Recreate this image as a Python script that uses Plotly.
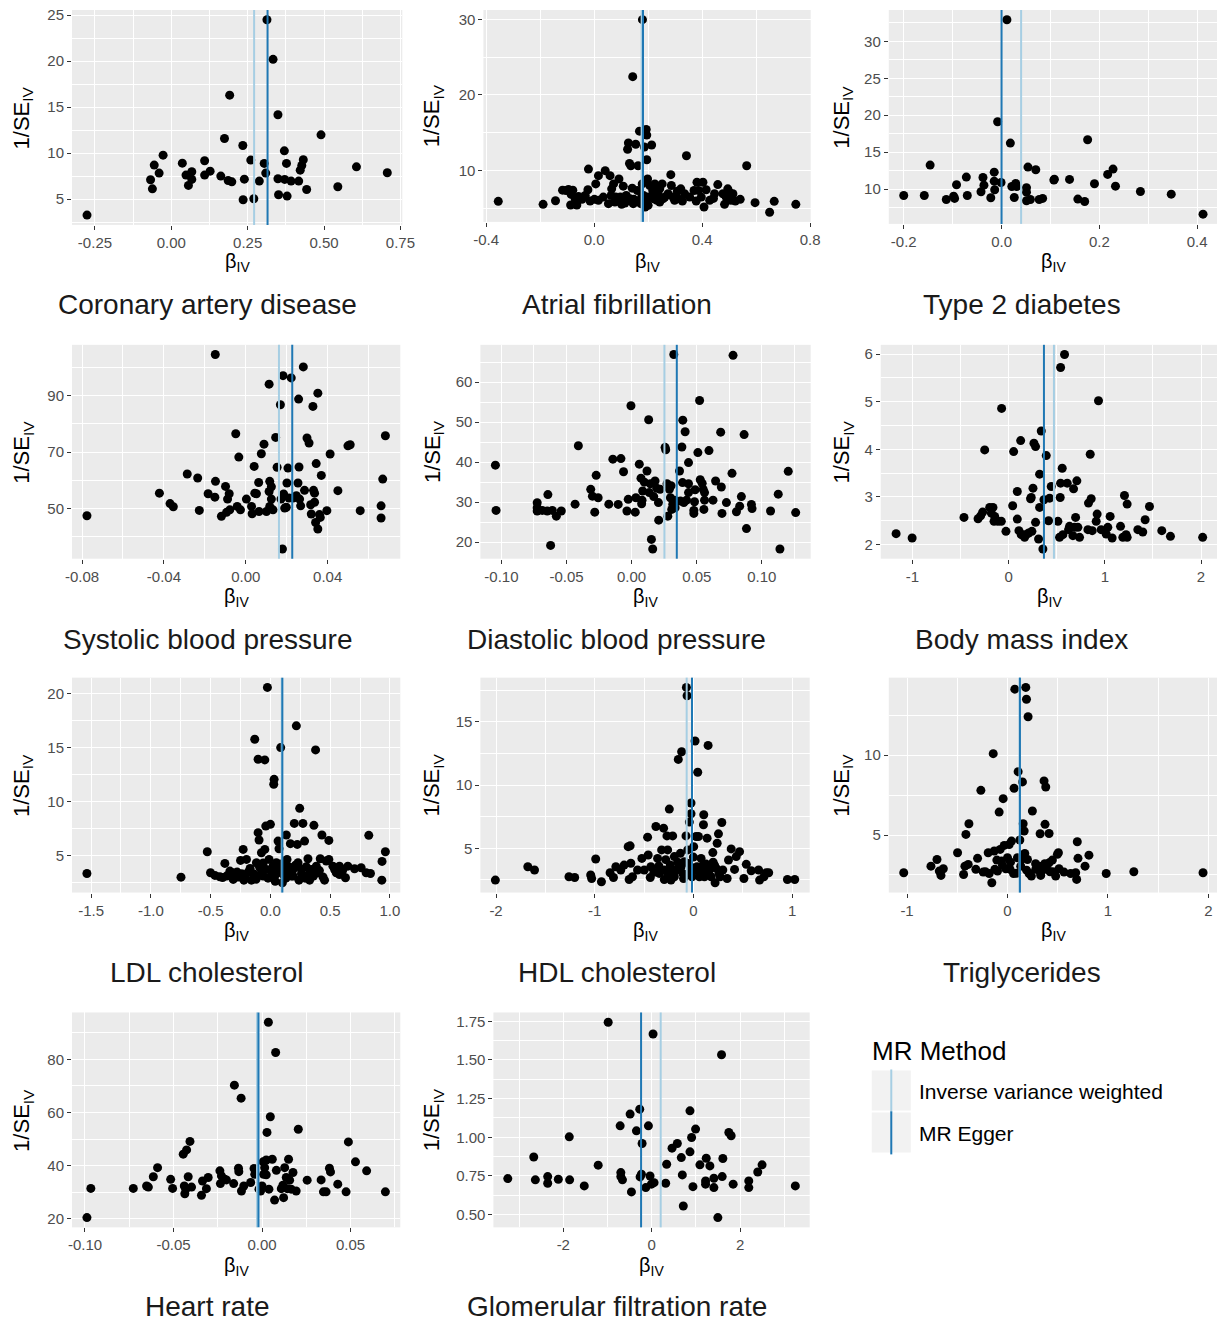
import plotly.graph_objects as go

W, H = 1217, 1323
# measured mapping of the photographing pipeline: picture = S * page + O
SX, OX = 0.9804, 10.05
SY, OY = 0.9975, 4.0
FIG_W = int(round((W - OX) / SX))
FIG_H = H
FONT = "Liberation Sans, Arial, Helvetica, sans-serif"
IVW_COLOR = "#A6CEE3"
EGGER_COLOR = "#1F78B4"

# ---------------- data ----------------
cad_beta = [-0.276, -0.068, -0.062, -0.056, -0.040, -0.027, 0.036, 0.048, 0.056, 0.067,
            0.067, 0.109, 0.109, 0.127, 0.162, 0.174, 0.186, 0.191, 0.198, 0.234,
            0.235, 0.239, 0.260, 0.270, 0.288, 0.304, 0.309, 0.313, 0.333, 0.349,
            0.349, 0.351, 0.370, 0.371, 0.377, 0.379, 0.392, 0.417, 0.422, 0.427,
            0.432, 0.443, 0.490, 0.545, 0.606, 0.707]
cad_inv_se = [3.26, 7.10, 6.12, 8.70, 7.83, 9.78, 8.91, 7.61, 6.49, 7.97,
              7.14, 9.17, 7.61, 8.04, 7.50, 11.59, 7.03, 16.30, 6.88, 10.83,
              4.93, 7.17, 9.24, 5.04, 6.96, 8.88, 7.83, 24.50, 20.20, 14.17,
              7.21, 5.47, 10.25, 7.14, 8.88, 5.33, 6.96, 6.96, 8.15, 8.66,
              9.28, 6.05, 11.99, 6.34, 8.51, 7.86]
cad_ivw, cad_egger = 0.271, 0.315

af_beta = [-0.355, -0.189, -0.143, -0.117, -0.104, -0.095, -0.085, -0.079, -0.087, -0.070,
           -0.064, -0.058, -0.045, -0.033, -0.023, -0.021, -0.015, 0.001, 0.006, 0.016,
           0.041, 0.059, 0.065, 0.072, 0.080, 0.092, 0.097, 0.102, 0.108, 0.119,
           0.124, 0.127, 0.131, 0.136, 0.143, 0.141, 0.147, 0.154, 0.160, 0.163,
           0.168, 0.173, 0.178, 0.179, 0.183, 0.186, 0.189, 0.193, 0.195, 0.195,
           0.198, 0.203, 0.206, 0.213, 0.217, 0.225, 0.232, 0.237, 0.243, 0.252,
           0.262, 0.284, 0.286, 0.298, 0.308, 0.321, 0.327, 0.342, 0.370, 0.378,
           0.381, 0.387, 0.403, 0.407, 0.415, 0.442, 0.458, 0.483, 0.489, 0.495,
           0.501, 0.514, 0.523, 0.541, 0.565, 0.596, 0.650, 0.667, 0.747, 0.016,
           0.034, 0.053, 0.063, 0.077, 0.114, 0.133, 0.145, 0.157, 0.176, 0.188,
           0.200, 0.219, 0.231, 0.243, 0.256, 0.274, 0.292, 0.311, 0.335, 0.354,
           0.397, 0.428, 0.446, 0.477, 0.507]
af_inv_se = [5.89, 5.49, 5.97, 7.37, 7.33, 7.46, 6.81, 7.37, 5.40, 6.19,
             5.40, 6.54, 6.15, 6.67, 7.42, 10.17, 5.93, 6.15, 8.20, 9.30,
             9.96, 9.30, 7.55, 8.20, 6.45, 8.86, 6.45, 5.49, 7.90, 6.67,
             12.80, 13.63, 10.92, 10.61, 22.43, 7.64, 6.15, 13.46, 7.33, 10.61,
             15.20, 5.58, 8.20, 30.00, 6.67, 13.10, 5.14, 15.43, 14.68, 11.40,
             8.86, 6.45, 7.99, 13.37, 7.33, 8.20, 6.02, 6.89, 7.55, 8.20,
             6.45, 9.43, 7.99, 6.02, 7.24, 7.55, 5.93, 11.93, 7.33, 5.93,
             8.42, 7.33, 8.42, 5.14, 7.42, 6.28, 8.11, 5.49, 6.45, 7.55,
             7.11, 6.89, 5.93, 6.15, 10.61, 5.71, 4.44, 5.89, 5.49, 6.02,
             6.45, 5.58, 6.67, 5.80, 5.67, 6.24, 5.58, 5.93, 6.45, 5.93,
             5.36, 6.24, 6.67, 5.80, 6.24, 6.89, 6.45, 6.24, 6.89, 6.45,
             6.45, 6.02, 6.89, 6.89, 6.02]
af_ivw, af_egger = 0.176, 0.181

t2d_beta = [-0.200, -0.158, -0.146, -0.113, -0.098, -0.096, -0.092, -0.072, -0.070, -0.042,
            -0.038, -0.036, -0.022, -0.015, -0.015, -0.014, -0.008, -0.001, 0.011, 0.018,
            0.021, 0.026, 0.029, 0.031, 0.051, 0.051, 0.051, 0.054, 0.059, 0.070,
            0.077, 0.084, 0.107, 0.108, 0.139, 0.156, 0.170, 0.176, 0.190, 0.217,
            0.228, 0.233, 0.284, 0.347, 0.412]
t2d_inv_se = [9.14, 9.14, 13.25, 8.60, 9.05, 8.74, 10.59, 11.63, 9.14, 9.64,
              11.58, 10.54, 8.83, 12.30, 11.08, 9.91, 19.12, 10.90, 32.93, 16.23,
              10.36, 8.87, 10.77, 10.36, 10.18, 9.59, 8.42, 12.98, 8.60, 12.62,
              8.60, 8.74, 11.22, 11.35, 11.31, 8.65, 8.33, 16.68, 10.72, 11.99,
              12.71, 10.40, 9.68, 9.32, 6.61]
t2d_ivw, t2d_egger = 0.040, 0.000

sbp_beta = [-0.0776, -0.0422, -0.0370, -0.0354, -0.0286, -0.0235, -0.0227, -0.0184, -0.0151, -0.0149,
            -0.0148, -0.0119, -0.0099, -0.0089, -0.0081, -0.0094, -0.0078, -0.0049, -0.0042, -0.0034,
            -0.0026, 0.0003, 0.0028, 0.0031, 0.0041, 0.0044, 0.0052, 0.0063, 0.0065, 0.0076,
            0.0089, 0.0101, 0.0114, 0.0114, 0.0117, 0.0117, 0.0125, 0.0125, 0.0133, 0.0146,
            0.0153, 0.0169, 0.0172, 0.0179, 0.0182, 0.0185, 0.0190, 0.0198, 0.0201, 0.0206,
            0.0211, 0.0222, 0.0231, 0.0247, 0.0255, 0.0258, 0.0260, 0.0263, 0.0268, 0.0281,
            0.0287, 0.0299, 0.0309, 0.0317, 0.0320, 0.0328, 0.0331, 0.0336, 0.0336, 0.0341,
            0.0344, 0.0352, 0.0352, 0.0360, 0.0364, 0.0369, 0.0396, 0.0412, 0.0450, 0.0499,
            0.0510, 0.0559, 0.0661, 0.0661, 0.0669, 0.0682]
sbp_inv_se = [47.4, 55.4, 51.7, 50.6, 62.2, 60.8, 49.3, 55.2, 54.0, 104.6,
              59.6, 47.2, 57.8, 53.3, 55.2, 48.6, 49.5, 76.5, 50.7, 68.2,
              49.5, 53.3, 50.7, 48.1, 64.9, 55.4, 55.2, 59.2, 48.9, 69.4,
              72.8, 48.9, 94.1, 56.0, 59.6, 50.7, 57.7, 53.3, 49.5, 75.2,
              64.6, 86.8, 53.3, 35.6, 97.1, 55.1, 50.1, 50.4, 59.0, 64.3,
              53.7, 96.3, 53.7, 54.5, 59.0, 88.8, 64.7, 53.3, 50.9, 100.2,
              56.4, 75.0, 73.2, 51.3, 48.0, 86.2, 56.4, 55.4, 52.2, 45.0,
              65.9, 90.9, 42.7, 47.8, 46.8, 61.7, 49.2, 69.3, 56.3, 72.2,
              72.6, 49.2, 50.9, 46.6, 60.4, 75.8]
sbp_ivw, sbp_egger = 0.0162, 0.0227

dbp_beta = [-0.1046, -0.1041, -0.0725, -0.0725, -0.0725, -0.0686, -0.0643, -0.0622, -0.0648, -0.0609,
            -0.0578, -0.0540, -0.0434, -0.0409, -0.0314, -0.0301, -0.0283, -0.0272, -0.0257, -0.0175,
            -0.0144, -0.0103, -0.0082, -0.0062, -0.0036, -0.0026, -0.0005, 0.0028, 0.0033, 0.0059,
            0.0072, 0.0077, 0.0080, 0.0085, 0.0098, 0.0118, 0.0131, 0.0136, 0.0144, 0.0152,
            0.0162, 0.0170, 0.0180, 0.0193, 0.0206, 0.0208, 0.0219, 0.0257, 0.0262, 0.0272,
            0.0278, 0.0290, 0.0298, 0.0303, 0.0308, 0.0316, 0.0324, 0.0329, 0.0334, 0.0368,
            0.0375, 0.0386, 0.0391, 0.0393, 0.0401, 0.0411, 0.0422, 0.0437, 0.0437, 0.0437,
            0.0478, 0.0483, 0.0488, 0.0478, 0.0509, 0.0522, 0.0527, 0.0542, 0.0550, 0.0555,
            0.0560, 0.0560, 0.0594, 0.0625, 0.0645, 0.0684, 0.0689, 0.0694, 0.0728, 0.0771,
            0.0779, 0.0805, 0.0830, 0.0843, 0.0864, 0.0882, 0.0920, 0.0925, 0.1067, 0.1126,
            0.1139, 0.1203, 0.1260]
dbp_inv_se = [39.25, 27.95, 29.87, 28.6, 27.8, 27.95, 31.9, 19.2, 27.8, 27.95,
              26.5, 27.8, 29.5, 44.1, 33.2, 31.5, 27.5, 36.7, 31.1, 29.5,
              40.75, 29.45, 40.9, 37.6, 27.8, 30.7, 54.1, 27.5, 31.1, 39.5,
              36.0, 29.6, 30.5, 32.8, 35.0, 37.8, 50.6, 32.4, 34.6, 20.7,
              18.3, 31.4, 35.3, 33.5, 29.9, 25.5, 33.2, 43.7, 43.1, 34.6,
              26.5, 33.2, 31.1, 34.1, 28.2, 29.5, 66.9, 30.5, 28.6, 37.8,
              30.3, 43.8, 34.9, 50.5, 29.9, 47.6, 30.5, 39.9, 34.6, 32.4,
              27.95, 30.1, 33.1, 27.2, 42.4, 55.4, 35.6, 34.7, 33.2, 28.2,
              32.4, 30.5, 42.9, 30.5, 35.3, 47.5, 33.8, 27.2, 29.9, 37.2,
              66.7, 27.6, 29.0, 31.4, 46.9, 23.4, 29.45, 28.4, 27.8, 32.0,
              18.3, 37.7, 27.4]
dbp_ivw, dbp_egger = 0.0252, 0.0347

bmi_beta = [-1.170, -1.003, -0.464, -0.318, -0.291, -0.270, -0.249, -0.197, -0.180, -0.163,
            -0.152, -0.145, -0.111, -0.076, -0.073, -0.028, 0.042, 0.052, 0.090, 0.090,
            0.107, 0.125, 0.131, 0.149, 0.166, 0.183, 0.208, 0.228, 0.235, 0.242,
            0.253, 0.263, 0.280, 0.280, 0.311, 0.322, 0.322, 0.339, 0.356, 0.367,
            0.391, 0.415, 0.426, 0.443, 0.512, 0.529, 0.536, 0.540, 0.540, 0.557,
            0.564, 0.581, 0.609, 0.623, 0.633, 0.668, 0.675, 0.685, 0.696, 0.709,
            0.720, 0.737, 0.824, 0.830, 0.848, 0.858, 0.869, 0.910, 0.920, 0.934,
            0.962, 1.014, 1.031, 1.055, 1.076, 1.163, 1.187, 1.204, 1.221, 1.232,
            1.232, 1.343, 1.394, 1.419, 1.464, 1.592, 1.682, 2.017]
bmi_inv_se = [2.224, 2.133, 2.566, 2.538, 2.600, 2.678, 3.986, 2.776, 2.657, 2.776,
              2.483, 2.587, 2.483, 2.483, 4.860, 2.273, 2.811, 3.951, 2.531, 3.112,
              2.287, 4.182, 2.203, 2.203, 2.147, 2.203, 2.238, 2.958, 2.986, 2.273,
              3.182, 4.126, 4.056, 2.462, 2.112, 3.476, 2.776, 4.385, 1.902, 2.937,
              3.867, 2.497, 2.972, 3.217, 2.483, 2.147, 2.986, 5.720, 3.287, 3.601,
              2.203, 5.993, 3.287, 2.308, 2.378, 2.182, 3.168, 2.357, 2.566, 3.336,
              2.357, 2.147, 2.308, 2.867, 3.895, 2.958, 2.287, 2.483, 2.636, 5.021,
              2.308, 2.217, 2.357, 2.587, 2.133, 2.378, 2.147, 3.028, 2.203, 2.846,
              2.147, 2.308, 2.259, 2.517, 2.797, 2.287, 2.168, 2.147]
bmi_ivw, bmi_egger = 0.471, 0.367

ldl_beta = [-1.535, -0.748, -0.528, -0.501, -0.464, -0.423, -0.381, -0.367, -0.339, -0.311,
            -0.278, -0.250, -0.228, -0.222, -0.200, -0.186, -0.159, -0.131, -0.117, -0.103,
            -0.103, -0.095, -0.075, -0.061, -0.047, -0.047, -0.039, -0.033, -0.025, -0.011,
            0.000, 0.008, 0.022, 0.028, 0.031, 0.050, 0.064, 0.072, 0.078, 0.086,
            0.100, 0.120, 0.133, 0.147, 0.161, 0.167, 0.189, 0.200, 0.217, 0.225,
            0.231, 0.239, 0.245, 0.259, 0.272, 0.286, 0.300, 0.314, 0.328, 0.342,
            0.364, 0.378, 0.398, 0.417, 0.431, 0.453, 0.467, 0.489, 0.489, 0.537,
            0.551, 0.578, 0.606, 0.628, 0.648, 0.704, 0.759, 0.801, 0.823, 0.837,
            0.932, 0.934, 0.962, -0.311, -0.131, -0.075, 0.036, 0.139, 0.175, 0.286,
            0.384, 0.523, 0.578, -0.40, -0.35, -0.27, -0.24, -0.21, -0.17, -0.14,
            -0.12, -0.09, -0.06, -0.02, 0.01, 0.04, 0.06, 0.09, 0.11, 0.13,
            0.16, 0.19, 0.21, 0.26, 0.29, 0.33, 0.36, 0.41, 0.44, 0.60]
ldl_inv_se = [3.33, 2.99, 5.34, 3.40, 3.15, 3.02, 4.26, 3.09, 3.55, 2.78,
              3.46, 4.54, 5.56, 2.71, 4.63, 3.46, 2.71, 15.76, 4.32, 13.91,
              7.11, 6.43, 5.25, 3.09, 13.85, 5.56, 7.72, 3.70, 20.56, 4.63,
              7.88, 3.09, 4.01, 11.59, 12.05, 4.32, 6.33, 5.62, 3.70, 14.99,
              2.47, 3.70, 6.89, 4.01, 3.46, 6.09, 3.70, 7.97, 17.00, 6.02,
              4.32, 2.71, 9.36, 3.70, 7.97, 6.33, 3.95, 4.69, 2.71, 3.70,
              7.79, 14.77, 3.40, 4.69, 6.89, 2.71, 4.48, 6.39, 4.63, 3.70,
              3.40, 3.24, 3.70, 2.93, 4.01, 3.77, 3.86, 3.40, 6.86, 3.33,
              2.71, 4.45, 5.34, 3.40, 3.09, 3.40, 3.09, 4.63, 3.09, 3.09,
              4.01, 4.01, 4.01, 2.95, 3.20, 3.00, 3.30, 2.90, 3.80, 3.30,
              2.80, 3.90, 4.30, 2.90, 3.50, 2.60, 3.40, 4.20, 3.20, 2.90,
              3.90, 3.10, 4.10, 3.30, 2.90, 3.50, 3.10, 3.60, 3.00, 3.50]
ldl_ivw, ldl_egger = 0.095, 0.100

hdl_beta = [-2.007, -1.678, -1.610, -1.261, -1.203, -1.041, -1.031, -0.990, -0.932, -0.844,
            -0.810, -0.786, -0.736, -0.702, -0.661, -0.651, -0.641, -0.634, -0.617, -0.566,
            -0.522, -0.498, -0.464, -0.458, -0.437, -0.431, -0.380, -0.363, -0.346, -0.322,
            -0.302, -0.295, -0.268, -0.261, -0.244, -0.234, -0.227, -0.210, -0.193, -0.176,
            -0.153, -0.132, -0.119, -0.108, -0.092, -0.071, -0.064, -0.075, -0.058, -0.041,
            -0.031, -0.024, -0.024, -0.014, 0.003, 0.017, 0.027, 0.037, 0.044, 0.051,
            0.061, 0.078, 0.085, 0.102, 0.105, 0.129, 0.139, 0.149, 0.163, 0.180,
            0.197, 0.214, 0.220, 0.231, 0.241, 0.254, 0.271, 0.288, 0.298, 0.342,
            0.356, 0.383, 0.417, 0.434, 0.468, 0.512, 0.536, 0.586, 0.661, 0.671,
            0.715, 0.739, 0.763, 0.953, 1.027, -0.295, -0.193, -0.125, 0.010, 0.112,
            0.180, -0.261, -0.041, -0.35, -0.28, -0.22, -0.16, -0.10, -0.05, 0.00,
            0.05, 0.09, 0.14, 0.20, 0.26, -0.40]
hdl_inv_se = [2.48, 3.54, 3.28, 2.75, 2.69, 2.88, 2.61, 4.15, 2.35, 3.06,
              2.69, 3.54, 3.28, 3.67, 5.13, 2.53, 5.19, 3.81, 2.75, 3.28,
              4.20, 3.28, 5.88, 4.47, 2.69, 3.54, 6.72, 4.20, 3.01, 4.87,
              6.59, 2.53, 5.98, 4.87, 8.10, 3.67, 2.48, 5.98, 4.34, 3.28,
              12.03, 4.60, 12.64, 3.01, 3.94, 17.73, 17.07, 5.98, 4.87, 7.07,
              3.54, 8.58, 7.73, 2.75, 5.13, 13.49, 5.93, 3.54, 11.02, 5.93,
              2.75, 4.20, 3.01, 6.86, 7.65, 3.75, 5.80, 13.14, 3.28, 2.75,
              4.66, 3.67, 2.27, 3.41, 5.40, 6.14, 2.75, 7.04, 3.28, 2.61,
              4.07, 4.95, 3.33, 4.34, 4.73, 2.61, 3.73, 3.22, 3.28, 2.48,
              2.75, 3.06, 3.06, 2.53, 2.53, 3.28, 2.75, 3.54, 3.28, 2.75,
              3.54, 3.01, 3.01, 3.60, 4.10, 3.10, 3.90, 2.60, 3.80, 4.30,
              3.20, 3.60, 3.10, 3.90, 3.00, 3.10]
hdl_ivw, hdl_egger = -0.068, -0.014

tg_beta = [-1.033, -0.762, -0.702, -0.679, -0.662, -0.639, -0.497, -0.437, -0.424, -0.414,
           -0.391, -0.384, -0.315, -0.298, -0.265, -0.242, -0.192, -0.182, -0.156, -0.142,
           -0.132, -0.126, -0.106, -0.099, -0.083, -0.073, -0.060, -0.043, -0.033, -0.017,
           0.000, 0.017, 0.026, 0.040, 0.060, 0.066, 0.073, 0.099, 0.106, 0.123,
           0.132, 0.149, 0.156, 0.166, 0.172, 0.182, 0.189, 0.199, 0.205, 0.215,
           0.238, 0.248, 0.281, 0.315, 0.325, 0.331, 0.354, 0.364, 0.371, 0.374,
           0.381, 0.391, 0.414, 0.414, 0.424, 0.447, 0.480, 0.497, 0.507, 0.513,
           0.563, 0.629, 0.679, 0.689, 0.695, 0.702, 0.772, 0.811, 0.983, 1.258,
           1.947, -0.22, -0.05, 0.03, 0.09, 0.14, 0.19, 0.28, 0.33, 0.45]
tg_inv_se = [2.64, 3.05, 3.47, 2.74, 2.47, 2.89, 3.89, 2.53, 3.05, 5.04,
             3.16, 5.71, 2.85, 3.54, 7.80, 2.68, 3.89, 2.59, 2.01, 10.10,
             4.00, 2.85, 3.43, 2.74, 6.44, 4.10, 3.37, 7.28, 4.35, 2.89,
             3.58, 4.41, 2.85, 4.62, 2.59, 7.93, 14.14, 3.58, 8.97, 4.69,
             3.05, 8.33, 5.71, 5.25, 3.85, 14.25, 13.51, 3.47, 12.41, 2.59,
             2.43, 6.51, 2.85, 3.05, 5.08, 2.47, 2.89, 8.39, 3.20, 5.67,
             8.01, 2.85, 5.10, 3.26, 2.70, 3.43, 2.43, 3.79, 3.89, 2.89,
             2.68, 2.59, 2.64, 2.22, 4.58, 3.54, 3.05, 3.74, 2.59, 2.70,
             2.64, 2.70, 3.10, 3.30, 2.60, 3.50, 2.80, 3.20, 2.60, 2.70]
tg_ivw, tg_egger = 0.120, 0.124

hr_beta = [-0.0989, -0.0967, -0.0727, -0.0652, -0.0642, -0.0614, -0.0590, -0.0516, -0.0505, -0.0445,
           -0.0439, -0.0436, -0.0430, -0.0426, -0.0417, -0.0407, -0.0398, -0.0342, -0.0336, -0.0314,
           -0.0304, -0.0238, -0.0235, -0.0229, -0.0210, -0.0201, -0.0160, -0.0156, -0.0133, -0.0131,
           -0.0118, -0.0116, -0.0103, -0.0064, -0.0045, -0.0041, -0.0017, -0.0008, 0.0000, 0.0006,
           0.0009, 0.0015, 0.0024, 0.0024, 0.0028, 0.0036, 0.0039, 0.0047, 0.0058, 0.0071,
           0.0077, 0.0081, 0.0109, 0.0118, 0.0122, 0.0128, 0.0137, 0.0143, 0.0150, 0.0156,
           0.0165, 0.0175, 0.0193, 0.0205, 0.0255, 0.0334, 0.0347, 0.0362, 0.0381, 0.0387,
           0.0428, 0.0475, 0.0488, 0.0528, 0.0591, 0.0697]
hr_inv_se = [20.4, 31.4, 31.4, 32.3, 31.9, 35.8, 39.2, 34.8, 31.4, 44.3,
             32.3, 29.4, 31.1, 45.9, 35.8, 49.1, 31.9, 28.8, 34.2, 31.3,
             35.5, 38.0, 33.2, 36.1, 34.8, 34.6, 33.2, 70.3, 39.0, 37.7,
             65.4, 30.4, 32.3, 33.6, 38.9, 36.7, 31.1, 30.4, 32.3, 41.4,
             36.7, 39.2, 42.1, 36.5, 52.5, 94.0, 31.1, 58.4, 42.4, 27.0,
             82.6, 38.2, 31.3, 32.6, 27.9, 39.2, 35.5, 31.3, 42.4, 34.5,
             31.1, 37.4, 30.4, 53.7, 34.5, 34.6, 30.1, 30.1, 39.0, 37.6,
             33.0, 30.1, 48.9, 41.4, 38.0, 30.1]
hr_ivw, hr_egger = -0.0028, -0.0020

gfr_beta = [-3.256, -2.669, -2.632, -2.353, -2.353, -2.113, -1.865, -1.857, -1.526, -1.211,
            -0.985, -0.714, -0.699, -0.699, -0.662, -0.489, -0.459, -0.346, -0.271, -0.263,
            -0.233, -0.218, -0.135, -0.075, -0.038, -0.008, 0.030, 0.053, 0.316, 0.338,
            0.459, 0.579, 0.669, 0.692, 0.714, 0.865, 0.865, 0.902, 0.932, 0.992,
            1.090, 1.218, 1.233, 1.218, 1.316, 1.406, 1.406, 1.496, 1.579, 1.594,
            1.609, 1.744, 1.797, 1.842, 2.195, 2.195, 2.398, 2.496, 3.248]
gfr_inv_se = [0.733, 0.873, 0.725, 0.746, 0.703, 0.729, 1.003, 0.725, 0.686, 0.820,
              1.744, 1.074, 0.772, 0.746, 0.725, 1.150, 0.647, 1.042, 1.182, 0.744,
              0.761, 0.960, 0.675, 1.074, 0.750, 0.697, 1.668, 0.707, 0.703, 0.826,
              0.930, 0.960, 0.869, 0.757, 0.556, 1.171, 0.906, 0.999, 0.681, 1.053,
              0.822, 0.718, 0.865, 0.697, 0.815, 0.735, 0.675, 0.481, 1.534, 0.746,
              0.863, 1.031, 1.010, 0.697, 0.718, 0.675, 0.776, 0.822, 0.686]
gfr_ivw, gfr_egger = 0.203, -0.241

# tick values
cad_xticks = [-0.25, 0.0, 0.25, 0.5, 0.75]
cad_yticks = [5, 10, 15, 20, 25]
af_xticks = [-0.4, 0.0, 0.4, 0.8]
af_yticks = [10, 20, 30]
t2d_xticks = [-0.2, 0.0, 0.2, 0.4]
t2d_yticks = [10, 15, 20, 25, 30]
sbp_xticks = [-0.08, -0.04, 0.0, 0.04]
sbp_yticks = [50, 70, 90]
dbp_xticks = [-0.10, -0.05, 0.0, 0.05, 0.10]
dbp_yticks = [20, 30, 40, 50, 60]
bmi_xticks = [-1, 0, 1, 2]
bmi_yticks = [2, 3, 4, 5, 6]
ldl_xticks = [-1.5, -1.0, -0.5, 0.0, 0.5, 1.0]
ldl_yticks = [5, 10, 15, 20]
hdl_xticks = [-2, -1, 0, 1]
hdl_yticks = [5, 10, 15]
tg_xticks = [-1, 0, 1, 2]
tg_yticks = [5, 10]
hr_xticks = [-0.10, -0.05, 0.0, 0.05]
hr_yticks = [20, 40, 60, 80]
gfr_xticks = [-2, 0, 2]
gfr_yticks = [0.50, 0.75, 1.00, 1.25, 1.50, 1.75]

legend_labels = ["Inverse variance weighted", "MR Egger"]

# panel table: title, data, ticks, decimals, pixel box (l, r, t, b) in the picture, column, row
panels = [
    ("Coronary artery disease", cad_beta, cad_inv_se, cad_ivw, cad_egger, cad_xticks, 2, cad_yticks, 0, (72, 402, 10, 225), 0, 0),
    ("Atrial fibrillation", af_beta, af_inv_se, af_ivw, af_egger, af_xticks, 1, af_yticks, 0, (483, 810, 10, 222), 1, 0),
    ("Type 2 diabetes", t2d_beta, t2d_inv_se, t2d_ivw, t2d_egger, t2d_xticks, 1, t2d_yticks, 0, (888, 1217, 10, 224), 2, 0),
    ("Systolic blood pressure", sbp_beta, sbp_inv_se, sbp_ivw, sbp_egger, sbp_xticks, 2, sbp_yticks, 0, (72, 400, 345, 559), 0, 1),
    ("Diastolic blood pressure", dbp_beta, dbp_inv_se, dbp_ivw, dbp_egger, dbp_xticks, 2, dbp_yticks, 0, (480, 810, 345, 559), 1, 1),
    ("Body mass index", bmi_beta, bmi_inv_se, bmi_ivw, bmi_egger, bmi_xticks, 0, bmi_yticks, 0, (880, 1217, 345, 559), 2, 1),
    ("LDL cholesterol", ldl_beta, ldl_inv_se, ldl_ivw, ldl_egger, ldl_xticks, 1, ldl_yticks, 0, (72, 400, 678, 893), 0, 2),
    ("HDL cholesterol", hdl_beta, hdl_inv_se, hdl_ivw, hdl_egger, hdl_xticks, 0, hdl_yticks, 0, (480, 809, 678, 893), 1, 2),
    ("Triglycerides", tg_beta, tg_inv_se, tg_ivw, tg_egger, tg_xticks, 0, tg_yticks, 0, (888, 1217, 678, 893), 2, 2),
    ("Heart rate", hr_beta, hr_inv_se, hr_ivw, hr_egger, hr_xticks, 2, hr_yticks, 0, (72, 400, 1013, 1228), 0, 3),
    ("Glomerular filtration rate", gfr_beta, gfr_inv_se, gfr_ivw, gfr_egger, gfr_xticks, 0, gfr_yticks, 2, (493, 809, 1013, 1228), 1, 3),
]

col_centers = [207, 616, 1021]
ytitle_x = [23, 433, 842]
title_y = [305, 640, 973, 1307]
xtitle_y = [263, 598, 932, 1267]


def px_x(v):
    # picture pixel -> paper fraction
    return min(max(((v - OX) / SX) / FIG_W, 0.0), 1.0)


def px_y(v):
    return min(max(1 - ((v - OY) / SY) / FIG_H, 0.0), 1.0)


def fmt(v, d):
    s = f"{v:.{d}f}"
    if s.startswith("-") and float(s) == 0:
        s = s[1:]
    return s


def data_range(vals):
    lo, hi = min(vals), max(vals)
    span = hi - lo
    return [lo - 0.05 * span, hi + 0.05 * span]


def minor_vals(ticks, rng):
    step = ticks[1] - ticks[0]
    cands = [ticks[0] - step / 2] + [t + step / 2 for t in ticks]
    return [c for c in cands if rng[0] < c < rng[1]]


fig = go.Figure()
layout = dict(
    width=FIG_W, height=FIG_H, autosize=False,
    margin=dict(l=0, r=0, t=0, b=0, pad=0),
    paper_bgcolor="white",
    plot_bgcolor="#EBEBEB",
    showlegend=False,
    font=dict(family=FONT, color="#000000"),
)
shapes = []
annotations = []

for i, (title, beta, inv, ivw, egger, xt, xd, yt, yd, box, col, row) in enumerate(panels):
    k = "" if i == 0 else str(i + 1)
    l, r, t, b = box
    xr = data_range(list(beta) + [ivw, egger])
    yr = data_range(inv)
    axis_common = dict(
        showgrid=True, gridcolor="white", gridwidth=1.1,
        zeroline=False, showline=False,
        ticks="outside", ticklen=4, tickwidth=1.1, tickcolor="#333333",
        tickfont=dict(family=FONT, size=15, color="#4D4D4D"),
        tickmode="array",
    )
    layout["xaxis" + k] = dict(
        axis_common,
        domain=[px_x(l), px_x(r)], anchor="y" + k, range=xr,
        tickvals=xt, ticktext=[fmt(v, xd) for v in xt],
        minor=dict(tickmode="array", tickvals=minor_vals(xt, xr), showgrid=True,
                   gridcolor="white", gridwidth=0.55, ticks=""),
    )
    layout["yaxis" + k] = dict(
        axis_common,
        domain=[px_y(b), px_y(t)], anchor="x" + k, range=yr,
        tickvals=yt, ticktext=[fmt(v, yd) for v in yt],
        minor=dict(tickmode="array", tickvals=minor_vals(yt, yr), showgrid=True,
                   gridcolor="white", gridwidth=0.55, ticks=""),
    )
    fig.add_trace(go.Scatter(
        x=beta, y=inv, mode="markers", xaxis="x" + k, yaxis="y" + k,
        marker=dict(color="black", size=9, line=dict(width=0)),
        hoverinfo="skip", showlegend=False,
    ))
    for val, colr in ((ivw, IVW_COLOR), (egger, EGGER_COLOR)):
        shapes.append(dict(type="line", xref="x" + k, yref="y" + k + " domain",
                           x0=val, x1=val, y0=0, y1=1, layer="above",
                           line=dict(color=colr, width=2)))
    # panel title
    annotations.append(dict(text=title, xref="paper", yref="paper",
                            x=px_x(col_centers[col]), y=px_y(title_y[row]),
                            xanchor="center", yanchor="middle", showarrow=False,
                            font=dict(family=FONT, size=28, color="#1A1A1A")))
    # x axis title
    annotations.append(dict(text="β<sub>IV</sub>", xref="paper", yref="paper",
                            x=px_x((l + r) / 2), y=px_y(xtitle_y[row]),
                            xanchor="center", yanchor="middle", showarrow=False,
                            font=dict(family=FONT, size=20, color="#000000")))
    # y axis title
    annotations.append(dict(text="1/SE<sub>IV</sub>", xref="paper", yref="paper",
                            x=px_x(ytitle_x[col]), y=px_y((t + b) / 2),
                            xanchor="center", yanchor="middle", showarrow=False,
                            textangle=-90,
                            font=dict(family=FONT, size=22, color="#000000")))

# legend (drawn in the empty last cell)
annotations.append(dict(text="MR Method", xref="paper", yref="paper",
                        x=px_x(869), y=px_y(1052), xanchor="left", yanchor="middle",
                        showarrow=False, font=dict(family=FONT, size=26, color="#000000")))
key_tops = [1071, 1113]
for j, (lab, colr) in enumerate(zip(legend_labels, [IVW_COLOR, EGGER_COLOR])):
    kt = key_tops[j]
    shapes.append(dict(type="rect", xref="paper", yref="paper",
                       x0=px_x(871), x1=px_x(910), y0=px_y(kt + 40), y1=px_y(kt),
                       fillcolor="#F2F2F2", line=dict(width=0), layer="below"))
    shapes.append(dict(type="line", xref="paper", yref="paper",
                       x0=px_x(890.5), x1=px_x(890.5), y0=px_y(kt + 42), y1=px_y(kt - 1),
                       line=dict(color=colr, width=2)))
    annotations.append(dict(text=lab, xref="paper", yref="paper",
                            x=px_x(916), y=px_y(kt + 21), xanchor="left", yanchor="middle",
                            showarrow=False, font=dict(family=FONT, size=21, color="#000000")))

layout["shapes"] = shapes
layout["annotations"] = annotations
fig.update_layout(**layout)

fig.write_html(
    "out.html",
    config={"displayModeBar": False, "responsive": False},
    post_script="document.body.style.margin='0px';document.documentElement.style.overflow='hidden';",
)
